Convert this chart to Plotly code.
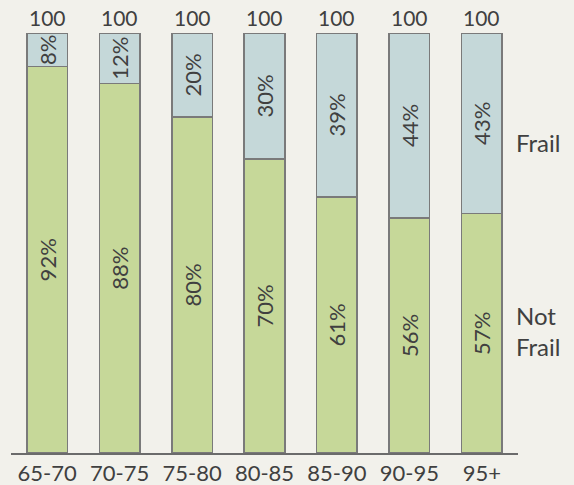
import plotly.graph_objects as go

categories = ["65-70", "70-75", "75-80", "80-85", "85-90", "90-95", "95+"]
not_frail = [92, 88, 80, 70, 61, 56, 57]
frail = [8, 12, 20, 30, 39, 44, 43]
totals = [a + b for a, b in zip(not_frail, frail)]

BG = "#f2f1eb"
GREEN = "#c6d899"
BLUE = "#c5d8d9"
EDGE = "#7a7a7a"
TXT = "#404040"
FONT = "Lato"
FS = 21

fig = go.Figure()
for name, vals, col in [("Not Frail", not_frail, GREEN), ("Frail", frail, BLUE)]:
    fig.add_trace(go.Bar(
        x=categories, y=vals, name=name,
        marker=dict(color=col, line=dict(color=EDGE, width=1.5)),
        text=[f"{v}%" for v in vals], textposition="inside",
        insidetextanchor="middle", textangle=-90,
        textfont=dict(family=FONT, size=22, color=TXT),
        hoverinfo="skip",
    ))

for c, t in zip(categories, totals):
    fig.add_annotation(x=c, y=t, text=str(t), showarrow=False,
                       yanchor="bottom", yshift=1,
                       font=dict(family=FONT, size=FS, color=TXT))

fig.add_annotation(xref="paper", x=1, y=74, text="Frail", showarrow=False,
                   xanchor="left", xshift=-4, align="left",
                   font=dict(family=FONT, size=24, color=TXT))
fig.add_annotation(xref="paper", x=1, y=29, text="Not<br>Frail", showarrow=False,
                   xanchor="left", xshift=-4, align="left",
                   font=dict(family=FONT, size=24, color=TXT))

fig.update_layout(
    width=574, height=485,
    barmode="stack", bargap=0.44,
    paper_bgcolor=BG, plot_bgcolor=BG,
    margin=dict(l=11, r=56, t=33, b=32, autoexpand=False),
    showlegend=False,
    uniformtext=dict(minsize=22, mode="show"),
    font=dict(family=FONT, size=FS, color=TXT),
)
fig.update_xaxes(showline=True, linecolor="#6b6b6b", linewidth=2,
                 showgrid=False, ticks="", range=[-0.5, 6.5], automargin=False,
                 tickfont=dict(family=FONT, size=22, color=TXT))
fig.update_yaxes(visible=False, range=[0, 100], showgrid=False)

fig.write_html("out.html")
